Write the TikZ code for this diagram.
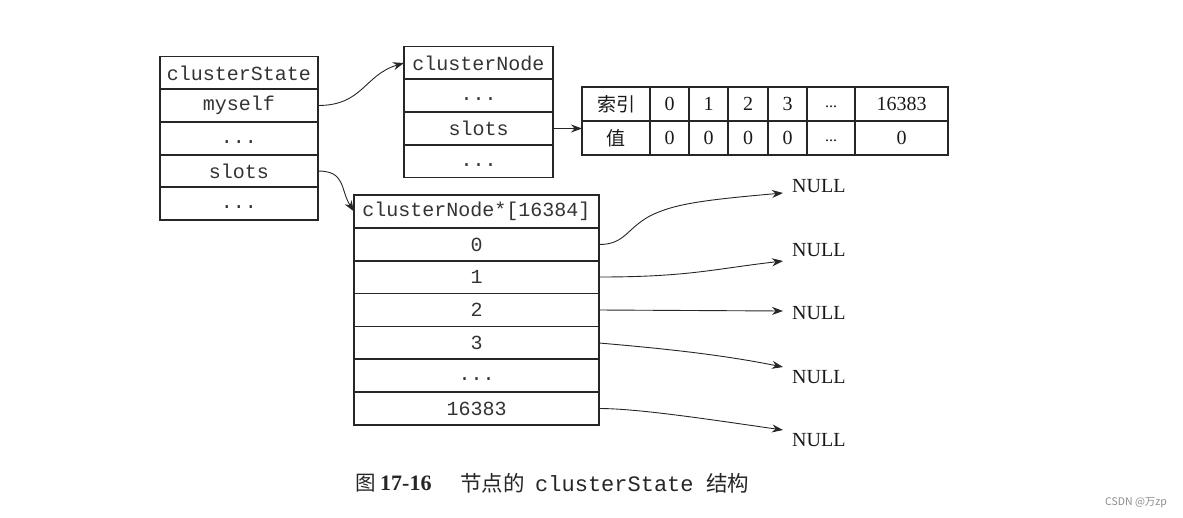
\documentclass[tikz,border=0pt]{standalone}
\usepackage{fontspec}
\setmainfont{Liberation Serif}
\setmonofont{Liberation Mono}
\newfontfamily\cjk{Noto Sans CJK SC}
\usetikzlibrary{arrows.meta}
\newcommand{\lowdots}{\vphantom{x}...}
\begin{document}
\begin{tikzpicture}[x=1pt,y=-1pt,
  cell/.style={draw=black!85, line width=1.1pt, inner sep=0pt, outer sep=0pt,
    font=\fontsize{20}{20}\selectfont\ttfamily, text=black!80},
  acell/.style={cell, minimum height=34pt, font=\fontsize{20}{20}\selectfont\rmfamily, text=black!90},
  ptr/.style={draw=black!85, line width=0.9pt, -{Stealth[length=11pt,width=8pt]}},
  nulltxt/.style={anchor=west, inner sep=0pt, font=\fontsize{20}{20}\selectfont\rmfamily, text=black!90},
  captxt/.style={anchor=west, inner sep=0pt, text=black!85}]
\useasboundingbox (0,0) rectangle (1183,517);

% clusterState
\begin{scope}[every node/.style={cell, minimum width=158pt, minimum height=33pt}]
\node (cs0) at (239,73)    {clusterState};
\node (cs1) at (239,105.5) {myself};
\node (cs2) at (239,138.5) {\lowdots};
\node (cs3) at (239,171)   {slots};
\node (cs4) at (239,203.5) {\lowdots};
\end{scope}

% clusterNode
\begin{scope}[every node/.style={cell, minimum width=149pt, minimum height=33pt}]
\node (cn0) at (478.5,63)    {clusterNode};
\node (cn1) at (478.5,95.5)  {\lowdots};
\node (cn2) at (478.5,128.5) {slots};
\node (cn3) at (478.5,161)   {\lowdots};
\end{scope}

% slots bitmap array
\node[acell, minimum width=68pt, font=\fontsize{19}{19}\selectfont\cjk] (ak) at (616,104) {索引};
\node[acell, minimum width=68pt, font=\fontsize{19}{19}\selectfont\cjk] (av) at (616,138) {值};
\node[acell, minimum width=39pt] (k0) at (669.5,104) {0};
\node[acell, minimum width=39pt] (v0) at (669.5,138) {0};
\node[acell, minimum width=39pt] (k1) at (708.5,104) {1};
\node[acell, minimum width=39pt] (v1) at (708.5,138) {0};
\node[acell, minimum width=40pt] (k2) at (748,104) {2};
\node[acell, minimum width=40pt] (v2) at (748,138) {0};
\node[acell, minimum width=39pt] (k3) at (787.5,104) {3};
\node[acell, minimum width=39pt] (v3) at (787.5,138) {0};
\node[acell, minimum width=48pt, font=\fontsize{16}{16}\selectfont\rmfamily] (k4) at (831,104) {\lowdots};
\node[acell, minimum width=48pt, font=\fontsize{16}{16}\selectfont\rmfamily] (v4) at (831,138) {\lowdots};
\node[acell, minimum width=93pt] (k5) at (901.5,104) {16383};
\node[acell, minimum width=93pt] (v5) at (901.5,138) {0};

% clusterNode*[16384]
\begin{scope}[every node/.style={cell, minimum width=245pt, minimum height=33pt}]
\node (sl) at (476.5,211.5) {clusterNode*[16384]};
\node (s0) at (476.5,244.5) {0};
\node (s1) at (476.5,277)   {1};
\node (s2) at (476.5,310)   {2};
\node (s3) at (476.5,343)   {3};
\node (s4) at (476.5,375.5) {\lowdots};
\node (s5) at (476.5,408.5) {16383};
\end{scope}

% NULL labels
\node[nulltxt] (n0) at (792,186) {NULL};
\node[nulltxt] (n1) at (792,250) {NULL};
\node[nulltxt] (n2) at (792,313) {NULL};
\node[nulltxt] (n3) at (792,377) {NULL};
\node[nulltxt] (n4) at (792,440) {NULL};
\coordinate (t0) at (783,193);
\coordinate (t1) at (783,261);
\coordinate (t2) at (783,311);
\coordinate (t3) at (783,367);
\coordinate (t4) at (783,430);

% pointers
\draw[ptr] (cs1.east) .. controls +(45,0) and +(-40,12) .. (cn0.west);
\draw[ptr] (cs3.east) .. controls +(28,0) and +(-14,-22) .. (sl.west);
\draw[ptr] (cn2.east) -- (av.west |- cn2.east);

\draw[ptr] (s0.east) .. controls +(25,0) and +(-22,13) .. (648,217) .. controls +(24,-13) and +(-80,7) .. (t0);
\draw[ptr] (s1.east) .. controls +(90,0) and +(-70,8) .. (t1);
\draw[ptr] (s2.east) -- (t2);
\draw[ptr] (s3.east) .. controls +(70,6) and +(-60,-12) .. (t3);
\draw[ptr] (s5.east) .. controls +(40,0) and +(-70,-10) .. (t4);

% caption
\node[captxt, font=\fontsize{20.5}{20.5}\selectfont\cjk] (c1) at (355,483) {图};
\node[captxt, font=\fontsize{22}{22}\selectfont\rmfamily\bfseries] (c2) at (380,483) {17-16};
\node[captxt, font=\fontsize{21.5}{21.5}\selectfont\cjk] (c3) at (460,483) {节点的};
\node[captxt, font=\fontsize{22}{22}\selectfont\ttfamily] (c4) at (535,484) {clusterState};
\node[captxt, font=\fontsize{21.5}{21.5}\selectfont\cjk] (c5) at (706,483) {结构};

% watermark
\node[anchor=west, inner sep=0pt, font=\fontsize{10.5}{10.5}\selectfont\cjk, text=black!45] (wm) at (1105,503) {CSDN @万zp};
\end{tikzpicture}
\end{document}
